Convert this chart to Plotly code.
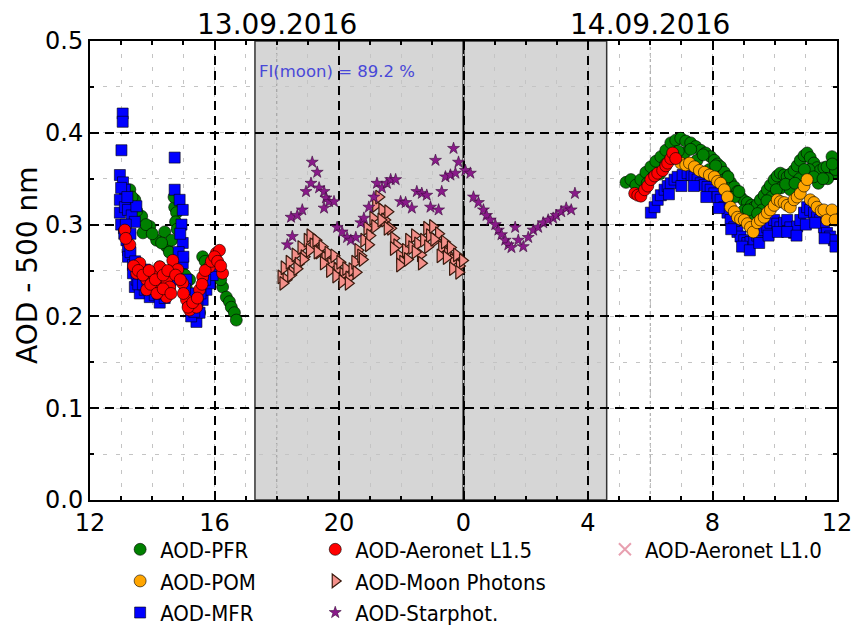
import plotly.graph_objects as go

# Time axis: decimal hours since 00:00 on 13.09.2016 (24 = midnight)
# ---------------------------------------------------------------- PFR
pfr_time = [13.28, 13.44, 13.66, 13.92, 13.70, 14.14, 14.40, 14.46, 14.24, 14.72,
            14.78, 14.75, 14.62, 14.98, 15.20, 15.30, 15.52, 15.62, 15.78, 15.94,
            16.16, 16.26, 16.38, 16.48, 16.54, 16.64, 16.70,
            13.35, 13.50, 13.80, 14.00, 14.30, 14.55, 14.70, 14.85, 15.05, 15.10,
            15.40, 15.70, 15.85, 16.05, 16.20, 14.70, 14.80,
            29.22, 29.38, 29.54, 29.70, 29.86, 30.02, 30.18, 30.34, 30.50, 30.66,
            30.82, 30.98, 31.14, 31.30, 31.46, 31.62, 31.78, 31.94, 32.06, 32.16,
            32.26, 32.38, 32.48, 32.58, 32.70, 32.80, 32.90, 33.02, 33.12, 33.25,
            33.34, 33.44, 33.54, 33.66, 33.76, 33.86, 33.98, 34.08, 34.18, 34.30,
            34.40, 34.50, 34.62, 34.72, 34.82, 34.94, 35.04, 35.14, 35.26, 35.36,
            35.46, 35.58, 35.68, 35.84, 35.94,
            29.90, 30.30, 30.70, 31.10, 31.50, 31.90, 32.30, 32.70, 33.00, 33.30,
            33.60, 33.90, 34.20, 34.50, 34.80, 35.10, 35.40, 35.70, 35.95,
            30.10, 30.50, 30.90, 31.30, 31.70, 32.10, 32.50, 32.85, 33.15, 33.45,
            33.75, 34.05, 34.35, 34.65, 34.95, 35.25, 35.55, 35.85]
pfr_aod = [0.338, 0.327, 0.309, 0.298, 0.291, 0.283, 0.292, 0.276, 0.254, 0.319,
           0.313, 0.303, 0.283, 0.247, 0.240, 0.218, 0.204, 0.265, 0.253, 0.261,
           0.254, 0.232, 0.221, 0.216, 0.210, 0.204, 0.196,
           0.330, 0.315, 0.300, 0.290, 0.280, 0.270, 0.260, 0.255, 0.245, 0.230,
           0.210, 0.260, 0.250, 0.245, 0.240, 0.330, 0.295,
           0.346, 0.349, 0.343, 0.349, 0.357, 0.363, 0.369, 0.374, 0.381, 0.389,
           0.392, 0.394, 0.391, 0.389, 0.385, 0.381, 0.378, 0.374, 0.370, 0.366,
           0.363, 0.357, 0.352, 0.346, 0.341, 0.336, 0.330, 0.326, 0.324, 0.321,
           0.319, 0.322, 0.327, 0.332, 0.338, 0.343, 0.349, 0.353, 0.356, 0.354,
           0.352, 0.355, 0.359, 0.364, 0.370, 0.375, 0.378, 0.373, 0.367, 0.362,
           0.359, 0.362, 0.363, 0.374, 0.356,
           0.345, 0.355, 0.372, 0.378, 0.370, 0.360, 0.348, 0.330, 0.315, 0.306,
           0.316, 0.330, 0.340, 0.338, 0.350, 0.360, 0.345, 0.350, 0.360,
           0.352, 0.366, 0.380, 0.382, 0.376, 0.364, 0.352, 0.336, 0.316, 0.312,
           0.326, 0.338, 0.344, 0.345, 0.360, 0.352, 0.350, 0.366]

# ---------------------------------------------------------------- POM
pom_time = [30.98, 31.14, 31.26, 31.42, 31.58, 31.74, 31.90, 32.06, 32.16, 32.26,
            32.38, 32.48, 32.58, 32.70, 32.80, 32.90, 33.02, 33.12, 33.22, 33.31,
            33.44, 33.54, 33.66, 33.76, 33.86, 33.98, 34.08, 34.18, 34.30, 34.40,
            34.50, 34.62, 34.72, 34.82, 34.94, 35.04, 35.14, 35.26, 35.36, 35.49,
            35.58, 35.68, 35.84, 35.94]
pom_aod = [0.367, 0.365, 0.367, 0.363, 0.359, 0.357, 0.354, 0.352, 0.347, 0.345,
           0.338, 0.330, 0.319, 0.314, 0.308, 0.306, 0.305, 0.301, 0.297, 0.292,
           0.302, 0.305, 0.308, 0.313, 0.316, 0.321, 0.327, 0.325, 0.324, 0.321,
           0.319, 0.327, 0.330, 0.334, 0.342, 0.349, 0.327, 0.324, 0.319, 0.315,
           0.316, 0.305, 0.316, 0.305]

# ---------------------------------------------------------------- MFR
mfr_time = [13.05, 13.05, 13.01, 12.96, 13.06, 13.12, 12.96, 12.96, 13.12, 13.22,
            13.34, 13.49, 13.44, 13.09, 13.17, 13.22, 13.22, 13.38, 13.38, 13.44,
            13.60, 13.76, 13.92, 14.08, 14.24, 14.40, 14.56, 13.76, 14.08, 14.40,
            14.72, 14.72, 14.88, 14.98, 14.94, 14.98, 14.98, 15.10, 15.20, 15.30,
            15.42, 15.52, 15.62, 15.74, 15.84, 15.94,
            13.00, 13.10, 13.15, 13.30, 13.30, 13.45, 13.50, 13.55, 13.70, 13.85,
            13.95, 14.10, 14.20, 14.30, 14.45, 14.60, 14.70, 14.85, 14.90, 15.00,
            15.05, 15.15, 15.25, 15.35, 15.45, 15.55, 15.70, 15.90, 13.00, 13.20,
            30.02, 30.14, 30.24, 30.34, 30.46, 30.56, 30.66, 30.78, 30.88, 31.04,
            31.20, 31.33, 31.42, 31.52, 31.62, 31.74, 31.84, 31.94, 32.06, 32.16,
            32.26, 32.38, 32.48, 32.58, 32.70, 32.80, 32.90, 33.02, 33.12, 33.22,
            33.34, 33.44, 33.54, 33.66, 33.76, 33.86, 33.98, 34.08, 34.18, 34.30,
            34.40, 34.50, 34.62, 34.72, 34.82, 34.94, 35.04, 35.14, 35.26, 35.36,
            35.46, 35.58, 35.68, 35.78, 35.90,
            30.60, 31.00, 31.40, 31.80, 32.20, 32.60, 32.95, 33.20, 33.50, 33.80,
            34.10, 34.40, 34.70, 35.00, 35.30, 35.60, 35.95]
mfr_aod = [0.421, 0.412, 0.381, 0.354, 0.346, 0.338, 0.327, 0.313, 0.319, 0.316,
           0.310, 0.320, 0.303, 0.296, 0.283, 0.272, 0.265, 0.256, 0.247, 0.232,
           0.225, 0.229, 0.221, 0.223, 0.215, 0.220, 0.229, 0.251, 0.240, 0.245,
           0.373, 0.338, 0.327, 0.316, 0.300, 0.280, 0.258, 0.240, 0.225, 0.210,
           0.194, 0.204, 0.218, 0.229, 0.236, 0.245,
           0.300, 0.290, 0.300, 0.290, 0.270, 0.260, 0.240, 0.235, 0.235, 0.230,
           0.240, 0.230, 0.225, 0.235, 0.225, 0.240, 0.250, 0.270, 0.290, 0.265,
           0.230, 0.215, 0.200, 0.205, 0.215, 0.225, 0.240, 0.255, 0.340, 0.330,
           0.313, 0.319, 0.327, 0.332, 0.338, 0.342, 0.345, 0.349, 0.352, 0.354,
           0.356, 0.354, 0.352, 0.349, 0.345, 0.343, 0.341, 0.338, 0.334, 0.330,
           0.327, 0.319, 0.313, 0.305, 0.297, 0.292, 0.287, 0.283, 0.280, 0.281,
           0.283, 0.288, 0.291, 0.294, 0.297, 0.302, 0.305, 0.301, 0.297, 0.302,
           0.305, 0.297, 0.291, 0.298, 0.305, 0.313, 0.319, 0.316, 0.313, 0.308,
           0.305, 0.297, 0.291, 0.287, 0.283,
           0.333, 0.342, 0.342, 0.330, 0.318, 0.295, 0.276, 0.272, 0.280, 0.288,
           0.292, 0.292, 0.288, 0.300, 0.302, 0.285, 0.276]

# ---------------------------------------------------------------- AERONET
l15_time = [13.12, 13.28, 13.50, 13.60, 13.82, 13.82, 14.02, 14.24, 14.24, 14.46,
            14.46, 14.56, 14.66, 14.82, 14.98, 15.10, 15.20, 15.42, 15.52, 15.62,
            15.84, 16.06, 16.16, 16.26,
            13.15, 13.40, 13.55, 13.70, 13.90, 13.95, 14.10, 14.15, 14.35, 14.35,
            14.50, 14.60, 14.75, 14.90, 15.00, 15.15, 15.30, 15.45, 15.60, 15.70,
            15.90, 16.00, 16.10, 16.20,
            29.50, 29.60, 29.70, 29.82, 29.92, 30.02, 30.14, 30.24, 30.40, 30.50,
            30.56, 30.66, 30.72, 30.82]
l15_aod = [0.294, 0.278, 0.247, 0.258, 0.240, 0.229, 0.247, 0.232, 0.254, 0.240,
           0.221, 0.232, 0.261, 0.251, 0.236, 0.218, 0.207, 0.210, 0.229, 0.243,
           0.254, 0.269, 0.272, 0.247,
           0.285, 0.255, 0.250, 0.245, 0.250, 0.235, 0.240, 0.225, 0.245, 0.230,
           0.250, 0.225, 0.245, 0.240, 0.225, 0.210, 0.215, 0.220, 0.235, 0.250,
           0.260, 0.265, 0.260, 0.255,
           0.334, 0.332, 0.331, 0.338, 0.342, 0.349, 0.353, 0.356, 0.359, 0.364,
           0.367, 0.372, 0.378, 0.372]
# Level 1.0 holds the same retrievals as level 1.5 (it is not cloud-screened)
l10_time = list(l15_time)
l10_aod = list(l15_aod)

# ---------------------------------------------------------------- NIGHT
moon_time = [18.14, 18.24, 18.30, 18.40, 18.50, 18.59, 18.69, 18.78, 18.88, 18.98,
             19.07, 19.17, 19.26, 19.36, 19.46, 19.55, 19.65, 19.74, 19.84, 19.94,
             20.03, 20.13, 20.22, 20.32, 20.42, 20.51, 20.61, 20.70, 20.80, 20.90,
             20.99, 21.09, 21.18, 21.28, 21.38, 21.47, 21.57, 21.66, 21.76, 21.86,
             21.95, 22.05, 22.14, 22.24, 22.34, 22.43, 22.53, 22.62, 22.72, 22.82,
             22.91, 23.01, 23.10, 23.20, 23.30, 23.39, 23.49, 23.58, 23.68, 23.78,
             23.87, 23.97,
             18.20, 18.45, 18.65, 18.85, 19.05, 19.30, 19.50, 19.70, 19.90, 20.10,
             20.30, 20.55, 20.75, 20.95, 21.15, 21.35, 21.55, 21.75, 21.95, 22.20,
             22.45, 22.65, 22.85, 23.05, 23.25, 23.45, 23.65, 23.85]
moon_aod = [0.243, 0.253, 0.240, 0.259, 0.248, 0.267, 0.257, 0.275, 0.265, 0.283,
            0.288, 0.278, 0.283, 0.270, 0.276, 0.264, 0.269, 0.257, 0.266, 0.251,
            0.259, 0.246, 0.252, 0.242, 0.251, 0.259, 0.272, 0.266, 0.283, 0.296,
            0.288, 0.307, 0.321, 0.330, 0.316, 0.305, 0.314, 0.296, 0.285, 0.277,
            0.266, 0.259, 0.272, 0.283, 0.275, 0.288, 0.279, 0.267, 0.283, 0.296,
            0.288, 0.298, 0.283, 0.290, 0.275, 0.281, 0.268, 0.275, 0.261, 0.267,
            0.255, 0.261,
            0.236, 0.245, 0.252, 0.262, 0.272, 0.270, 0.258, 0.250, 0.244, 0.238,
            0.236, 0.248, 0.262, 0.278, 0.298, 0.305, 0.296, 0.274, 0.256, 0.262,
            0.270, 0.258, 0.276, 0.284, 0.266, 0.264, 0.252, 0.248]

star_time = [18.34, 18.50, 18.46, 18.66, 18.82, 18.94, 19.10, 19.14, 19.30, 19.36,
             19.52, 19.58, 19.68, 19.52, 19.84, 19.94, 20.10, 20.26, 20.38, 20.54,
             20.70, 20.80, 20.96, 21.12, 21.22, 21.38, 21.54, 21.66, 21.82, 21.98,
             22.14, 22.34, 22.50, 22.66, 22.82, 22.94, 23.10, 23.20, 23.30, 23.42,
             23.58, 23.68, 23.74, 23.84, 24.06, 24.22, 24.32, 24.48, 24.64, 24.74,
             24.86, 25.02, 25.12, 25.22, 25.34, 25.44, 25.54, 25.66, 25.76, 25.92,
             26.08, 26.24, 26.40, 26.56, 26.72, 26.88, 26.98, 27.14, 27.30, 27.46,
             27.58]
star_aod = [0.278, 0.287, 0.308, 0.310, 0.316, 0.336, 0.345, 0.368, 0.357, 0.340,
            0.336, 0.329, 0.325, 0.318, 0.325, 0.297, 0.292, 0.286, 0.283, 0.286,
            0.302, 0.307, 0.319, 0.330, 0.345, 0.340, 0.345, 0.349, 0.349, 0.325,
            0.324, 0.318, 0.336, 0.334, 0.332, 0.319, 0.370, 0.316, 0.336, 0.352,
            0.354, 0.383, 0.356, 0.368, 0.359, 0.356, 0.330, 0.324, 0.316, 0.310,
            0.305, 0.300, 0.294, 0.289, 0.283, 0.278, 0.275, 0.297, 0.283, 0.276,
            0.286, 0.294, 0.297, 0.302, 0.305, 0.307, 0.310, 0.314, 0.318, 0.316,
            0.334]

# Axis ticks and annotations
x_tickvals = [12, 16, 20, 24, 28, 32, 36]
x_ticktext = ["12", "16", "20", "0", "4", "8", "12"]
y_tickvals = [0.0, 0.1, 0.2, 0.3, 0.4, 0.5]
night_start, night_end = 17.3, 28.6
sun_lines = [18.0, 30.0]
midnight = 24.0
date_pos = [18.0, 30.0]
date_text = ["13.09.2016", "14.09.2016"]
moon_fraction = 89.2
y_label = "AOD - 500 nm"

FONT = "DejaVu Sans"
LEGEND_FONT = "DejaVu Sans Condensed, DejaVu Sans"
edge = dict(color="black", width=0.6)

fig = go.Figure()

fig.add_trace(go.Scatter(x=pfr_time, y=pfr_aod, mode="markers", name="AOD-PFR",
                         legend="legend", legendrank=1,
                         marker=dict(symbol="circle", size=12, color="#008000", line=edge)))
fig.add_trace(go.Scatter(x=mfr_time, y=mfr_aod, mode="markers", name="AOD-MFR",
                         legend="legend", legendrank=3,
                         marker=dict(symbol="square", size=11, color="#0000ff", line=edge)))
fig.add_trace(go.Scatter(x=pom_time, y=pom_aod, mode="markers", name="AOD-POM",
                         legend="legend", legendrank=2,
                         marker=dict(symbol="circle", size=12, color="#ffa500", line=edge)))
fig.add_trace(go.Scatter(x=l10_time, y=l10_aod, mode="markers", name="AOD-Aeronet L1.0",
                         legend="legend3", legendrank=1,
                         marker=dict(symbol="x-thin", size=8, color="#e8a0b0",
                                     line=dict(color="#e8a0b0", width=1.2))))
fig.add_trace(go.Scatter(x=l15_time, y=l15_aod, mode="markers", name="AOD-Aeronet L1.5",
                         legend="legend2", legendrank=1,
                         marker=dict(symbol="circle", size=12, color="#ff0000", line=edge)))
fig.add_trace(go.Scatter(x=moon_time, y=moon_aod, mode="markers", name="AOD-Moon Photons",
                         legend="legend2", legendrank=2,
                         marker=dict(symbol="triangle-right", size=12, color="#f4908a",
                                     line=dict(color="#3a1a0e", width=1.2))))
fig.add_trace(go.Scatter(x=star_time, y=star_aod, mode="markers", name="AOD-Starphot.",
                         legend="legend2", legendrank=3,
                         marker=dict(symbol="star", size=9, color="#8a1a8a",
                                     line=dict(color="#3a0a3a", width=0.6))))

# Night period shading, midnight marker and twilight lines
fig.add_shape(type="rect", xref="x", yref="y domain", x0=night_start, x1=night_end,
              y0=0, y1=1, fillcolor="#d6d6d6", line=dict(color="#333333", width=1.5),
              layer="below")
for xs in sun_lines:
    fig.add_shape(type="line", xref="x", yref="y domain", x0=xs, x1=xs, y0=0, y1=1,
                  line=dict(color="#999999", width=1, dash="dot"), layer="below")
fig.add_shape(type="line", xref="x", yref="y domain", x0=midnight, x1=midnight,
              y0=0, y1=1, line=dict(color="black", width=2), layer="below")

for xp, txt in zip(date_pos, date_text):
    fig.add_annotation(x=xp, xref="x", y=1.0, yref="paper", yanchor="bottom",
                       text=txt, showarrow=False, yshift=-2,
                       font=dict(family=FONT, size=28, color="black"))

fig.add_annotation(x=night_start + 0.05, xref="x", y=0.467, yref="y", xanchor="left",
                   text=f"FI(moon) = {moon_fraction} %", showarrow=False,
                   font=dict(family=FONT, size=16.5, color="#4848d8"))

# vertical axis label
fig.add_annotation(x=-0.083, xref="paper", y=0.512, yref="paper",
                   xanchor="center", yanchor="middle", textangle=-90,
                   text=y_label, showarrow=False,
                   font=dict(family=FONT, size=28, color="black"))

major_grid = dict(showgrid=True, gridcolor="black", gridwidth=1.6, griddash="9px,6px")

fig.update_xaxes(range=[12, 36], tickvals=x_tickvals, ticktext=x_ticktext,
                 ticks="inside", ticklen=8, tickwidth=1.5, tickcolor="black",
                 showline=True, linecolor="black", linewidth=2, mirror="allticks",
                 zeroline=False, ticklabeloverflow="allow",
                 tickfont=dict(family=FONT, size=24, color="black"),
                 minor=dict(dtick=1, tick0=12, ticks="inside", ticklen=4,
                            tickcolor="black", showgrid=True, gridcolor="#c4c4c4",
                            gridwidth=1, griddash="4px,9px"),
                 **major_grid)
fig.update_yaxes(range=[0, 0.5], tickvals=y_tickvals, tickformat=".1f",
                 ticks="inside", ticklen=8, tickwidth=1.5, tickcolor="black",
                 showline=True, linecolor="black", linewidth=2, mirror="allticks",
                 zeroline=False,
                 tickfont=dict(family=FONT, size=24, color="black"),
                 minor=dict(dtick=0.05, tick0=0, ticks="inside", ticklen=4,
                            tickcolor="black", showgrid=True, gridcolor="#c4c4c4",
                            gridwidth=1, griddash="4px,9px"),
                 **major_grid)

legend_common = dict(orientation="v", xref="container", yref="container",
                     yanchor="top", xanchor="left", y=0.169,
                     bgcolor="rgba(0,0,0,0)", borderwidth=0,
                     traceorder="normal",
                     font=dict(family=LEGEND_FONT, size=22, color="black"))
fig.update_layout(
    width=852, height=636,
    margin=dict(l=90, r=15, t=41, b=136, autoexpand=False),
    paper_bgcolor="white", plot_bgcolor="white",
    showlegend=True,
    legend=dict(x=0.141, itemsizing="trace", **legend_common),
    legend2=dict(x=0.370, itemsizing="trace", **legend_common),
    legend3=dict(x=0.710, itemsizing="constant", **legend_common),
)

fig.write_html("out.html")
